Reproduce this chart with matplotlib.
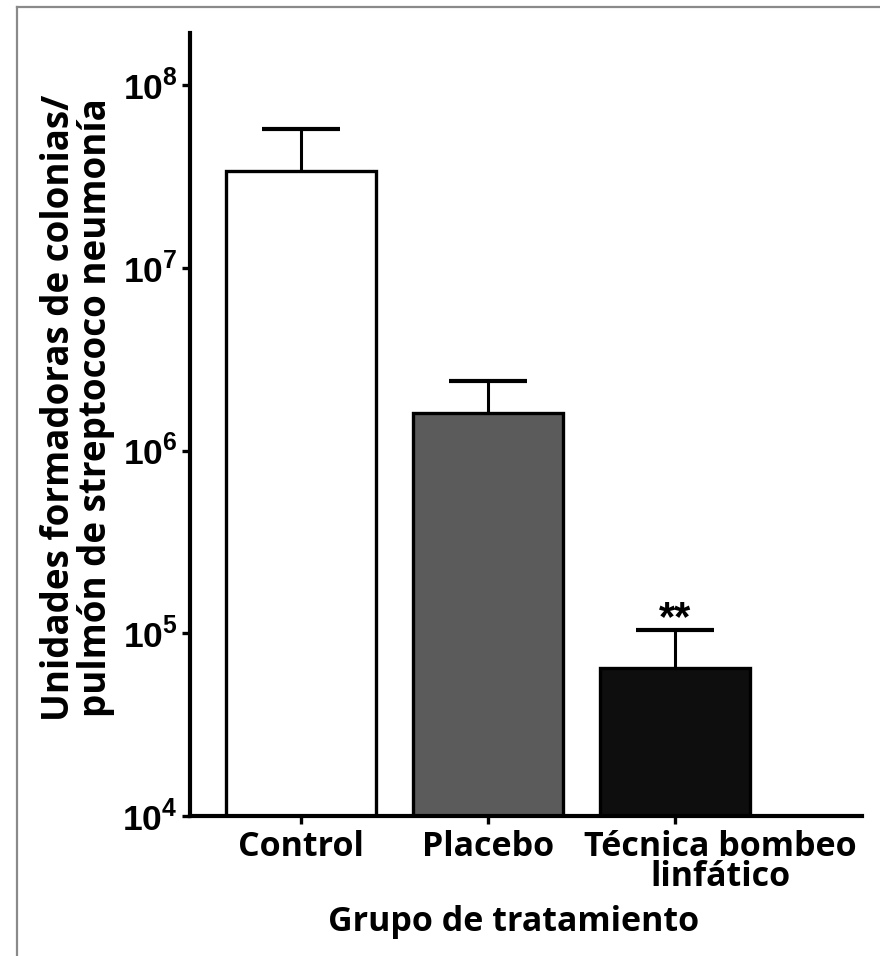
import numpy as np
import matplotlib.pyplot as plt
import matplotlib.transforms as mtransforms
from matplotlib.lines import Line2D

# datos
grupos = ['Control', 'Placebo', 'Técnica bombeo\nlinfático']
medias = [3.4e7, 1.6e6, 6.5e4]
errores = [2.35e7, 0.8e6, 3.9e4]
colores = ['white', '#5b5b5b', '#0e0e0e']
decadas = [4, 5, 6, 7, 8]

plt.rcParams['font.family'] = ['Open Sans', 'DejaVu Sans']
plt.rcParams['mathtext.fontset'] = 'custom'
plt.rcParams['mathtext.rm'] = 'Liberation Sans:bold'
plt.rcParams['mathtext.bf'] = 'Liberation Sans:bold'

fig = plt.figure(figsize=(8.8, 9.56), dpi=100)
ax = fig.add_axes([0.216, 0.1464, 0.7635, 0.8191])

x = np.arange(len(grupos))
# barras de error detras de las barras (solo se ve la parte superior)
ax.errorbar(x, medias, yerr=errores, fmt='none', ecolor='black',
            elinewidth=2.2, capsize=28, capthick=3, zorder=1)
ax.bar(x, medias, width=0.8, color=colores, edgecolor='black',
       linewidth=2.4, zorder=2)

ax.set_yscale('log')
ax.set_ylim(1e4, 1.93e8)
ax.set_xlim(-0.594, 3.0)
ax.set_yticks([10.0**d for d in decadas])
ax.set_yticklabels(['$10^{%d}$' % d for d in decadas])
ax.yaxis.set_minor_locator(plt.NullLocator())
ax.set_xticks(x)
ax.set_xticklabels(grupos, fontsize=24.5, fontweight='bold', linespacing=0.86)

for lab in ax.get_yticklabels():
    lab.set_fontsize(25.5)

ax.tick_params(axis='both', direction='out', length=6, width=2.4)
ax.tick_params(axis='y', pad=3)
ax.tick_params(axis='x', pad=4)
for s in ['top', 'right']:
    ax.spines[s].set_visible(False)
for s in ['left', 'bottom']:
    ax.spines[s].set_linewidth(3)

# la ultima etiqueta esta desplazada a la derecha en el original
ultima = ax.xaxis.get_major_ticks()[-1].label1
ultima.set_transform(ultima.get_transform() +
                     mtransforms.ScaledTranslation(45 / 100, 0, fig.dpi_scale_trans))

ax.set_xlabel('Grupo de tratamiento', fontsize=24.5, fontweight='bold')
ax.xaxis.set_label_coords(0.482, -0.1137)
ax.xaxis.label.set_va('top')
ax.set_ylabel('Unidades formadoras de colonias/\npulmón de streptococo neumonía',
              fontsize=26.5, fontweight='bold', linespacing=0.96)
ax.yaxis.set_label_coords(-0.112, 0.521)

# asteriscos de significacion
ax.annotate('**', xy=(x[2], medias[2] + errores[2]), xytext=(0, -6.5),
            textcoords='offset points', ha='center', va='bottom',
            fontsize=30, fontweight='bold', family='Liberation Sans')

# marco gris de la figura
fig.add_artist(Line2D([16.5 / 880, 16.5 / 880], [0, 1 - 6.5 / 956],
                      color='#8a8a8a', lw=1.6))
fig.add_artist(Line2D([16.5 / 880, 1], [1 - 6.5 / 956, 1 - 6.5 / 956],
                      color='#8a8a8a', lw=1.6))

fig.savefig('out.png', dpi=100)
